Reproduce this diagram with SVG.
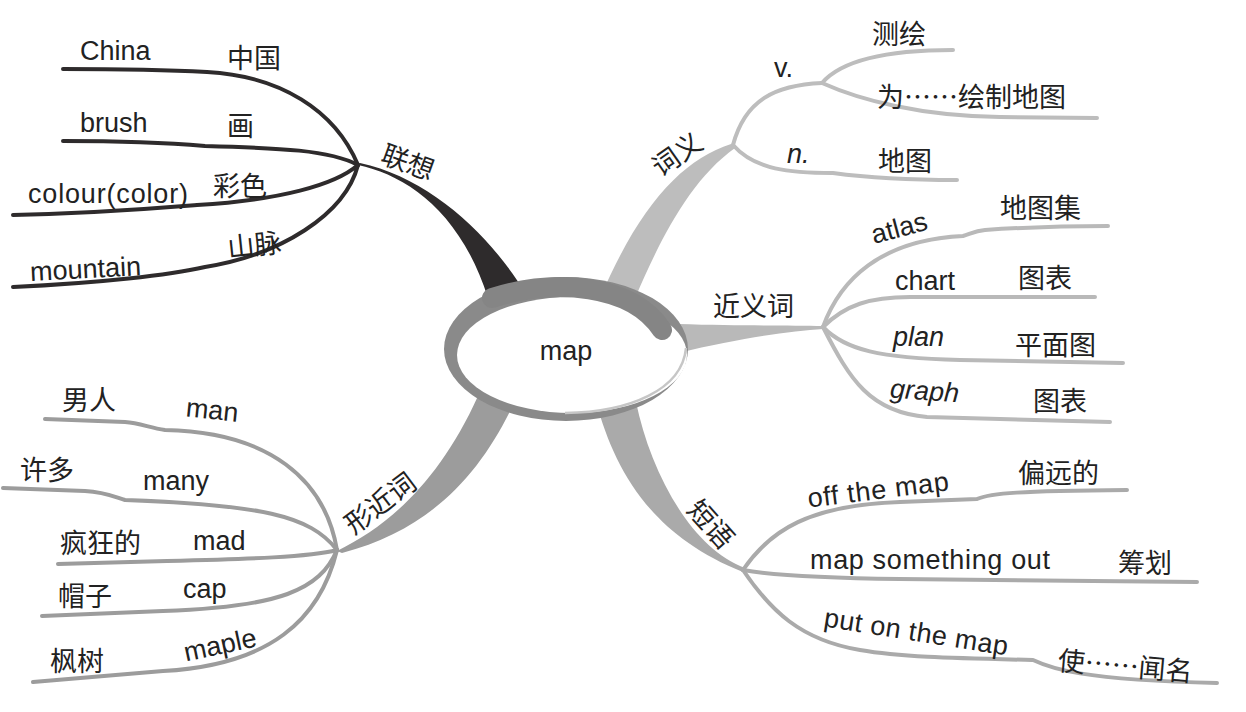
<svg xmlns="http://www.w3.org/2000/svg" width="1246" height="712" viewBox="0 0 1246 712">
<style>
.en{font-family:"Liberation Sans",Arial,sans-serif;font-size:27px;fill:#222}
.it{font-style:italic}
.zh{font-family:"Noto Sans CJK SC","Noto Sans CJK JP",sans-serif;font-size:27px;fill:#222}
.lk{fill:none;stroke-linecap:round;stroke-linejoin:round}
.d{stroke:#2e2b2c;stroke-width:4}
.a{stroke:#bdbdbd;stroke-width:4}
.b{stroke:#b9b9b9;stroke-width:4}
.c{stroke:#9c9c9c;stroke-width:4}
.e{stroke:#aaaaaa;stroke-width:4}
</style>
<rect width="1246" height="712" fill="#fff"/>
<g id="connectors">
  <!-- trunks -->
  <path d="M358 165 C405 175 460 210 488 298 L526 294 C490 235 430 178 360 163 Z" fill="#2e2b2c"/>
  <path d="M731 144 C682 160 640 205 600 298 L636 296 C660 240 690 180 735 148 Z" fill="#bdbdbd"/>
  <path d="M678 324 C740 326 790 325 823 326 L823 329 C790 331 740 338 678 353 Z" fill="#b9b9b9"/>
  <path d="M337 551 C390 525 440 480 478 396 L514 403 C480 475 430 530 342 553 Z" fill="#9c9c9c"/>
  <path d="M596 402 C615 470 650 535 743 572 L745 568 C690 548 650 470 636 402 Z" fill="#aaaaaa"/>
  <!-- 联想 leaves -->
  <path class="lk d" d="M63 69 C120 69 170 70 207 72 C280 76 335 110 358 165"/>
  <path class="lk d" d="M63 141 C120 141 170 143 205 146 C280 148 330 150 358 165"/>
  <path class="lk d" d="M13 215 C100 213 160 208 197 205 C280 200 335 185 358 165"/>
  <path class="lk d" d="M13 287 C100 283 170 275 205 267 C280 255 345 215 358 165"/>
  <!-- 词义 leaves -->
  <path class="lk a" d="M733 145 C745 100 775 85 822 83"/>
  <path class="lk a" d="M822 83 C840 62 880 50 953 50"/>
  <path class="lk a" d="M822 83 C860 100 920 116 1000 117 L1097 118"/>
  <path class="lk a" d="M733 145 C755 170 790 173 833 173 C870 178 910 180 957 180"/>
  <!-- 近义词 leaves -->
  <path class="lk b" d="M823 327 C840 280 880 240 963 236 C970 234 975 231 985 230 C1030 227 1070 226 1108 226"/>
  <path class="lk b" d="M823 327 C845 305 870 297 910 297 L1095 297"/>
  <path class="lk b" d="M823 327 C845 350 880 358 960 360 L1123 363"/>
  <path class="lk b" d="M823 327 C850 380 870 412 927 417 L1110 422"/>
  <!-- 形近词 leaves -->
  <path class="lk c" d="M337 550 C325 480 270 432 165 430 C150 428 140 423 125 422 L45 419"/>
  <path class="lk c" d="M337 550 C310 515 260 505 125 500 C115 497 105 492 85 491 L3 488"/>
  <path class="lk c" d="M337 550 C310 557 250 559 167 561 L58 564"/>
  <path class="lk c" d="M337 550 C320 590 280 607 163 611 L42 616"/>
  <path class="lk c" d="M337 550 C320 620 270 665 163 671 L33 682"/>
  <!-- 短语 leaves -->
  <path class="lk e" d="M743 570 C770 530 810 505 900 502 L977 499 C990 493 1020 491 1127 490"/>
  <path class="lk e" d="M743 570 C770 575 820 578 900 579 L1197 582"/>
  <path class="lk e" d="M743 570 C770 610 800 640 860 650 C900 657 950 658 1033 660 C1050 668 1080 680 1217 683"/>
</g>
<g id="node-map">
  <ellipse cx="566" cy="349" rx="122" ry="72" fill="#8a8a8a"/>
  <ellipse cx="572" cy="355" rx="115" ry="58" fill="#fff"/>
  <path d="M686 348 C682 390 630 412 565 413" fill="none" stroke="#c6c6c6" stroke-width="2.5"/>
  <path d="M492 298 C555 278 632 284 662 330" fill="none" stroke="#858585" stroke-width="20" stroke-linecap="round"/>
  <text class="en" x="566" y="360" text-anchor="middle">map</text>
</g>
<g id="branch-lianxiang">
  <text class="zh" transform="translate(408,162) rotate(20)" y="10" text-anchor="middle">联想</text>
  <text class="en" x="80" y="60">China</text>
  <text class="zh" x="227" y="68">中国</text>
  <text class="en" x="80" y="132">brush</text>
  <text class="zh" x="227" y="136">画</text>
  <text class="en" x="28" y="203" textLength="160">colour(color)</text>
  <text class="zh" x="213" y="196">彩色</text>
  <text class="en" x="30" y="278" transform="rotate(-3,86,270)">mountain</text>
  <text class="zh" x="227" y="255" transform="rotate(-6,252,243)">山脉</text>
</g>
<g id="branch-ciyi">
  <text class="zh" transform="translate(677,154) rotate(-35)" y="10" text-anchor="middle">词义</text>
  <text class="en" x="774" y="77">v.</text>
  <text class="zh" x="872" y="44">测绘</text>
  <text class="zh" x="877" y="107">为……绘制地图</text>
  <text class="en it" x="787" y="163">n.</text>
  <text class="zh" x="878" y="171">地图</text>
</g>
<g id="branch-jinyici">
  <text class="zh" x="713" y="316">近义词</text>
  <text class="en" transform="translate(899,227) rotate(-15)" y="10" text-anchor="middle">atlas</text>
  <text class="zh" x="1000" y="218">地图集</text>
  <text class="en" x="895" y="290">chart</text>
  <text class="zh" x="1018" y="288">图表</text>
  <text class="en it" x="893" y="346">plan</text>
  <text class="zh" x="1015" y="355">平面图</text>
  <text class="en it" x="890" y="400" transform="rotate(4,925,393)">graph</text>
  <text class="zh" x="1033" y="411">图表</text>
</g>
<g id="branch-xingjinci">
  <text class="zh" transform="translate(380,503) rotate(-37)" y="10" text-anchor="middle">形近词</text>
  <text class="zh" x="62" y="410">男人</text>
  <text class="en" transform="translate(212,412) rotate(6)" y="7" text-anchor="middle">man</text>
  <text class="zh" x="20" y="480">许多</text>
  <text class="en" x="143" y="490">many</text>
  <text class="zh" x="60" y="553">疯狂的</text>
  <text class="en" x="193" y="550">mad</text>
  <text class="zh" x="58" y="606">帽子</text>
  <text class="en" x="183" y="598">cap</text>
  <text class="zh" x="50" y="671">枫树</text>
  <text class="en" transform="translate(220,645) rotate(-12)" y="9" text-anchor="middle">maple</text>
</g>
<g id="branch-duanyu">
  <text class="zh" transform="translate(711,524) rotate(48)" y="10" text-anchor="middle">短语</text>
  <text class="en" transform="translate(878,490) rotate(-7)" y="9" text-anchor="middle" textLength="142">off the map</text>
  <text class="zh" x="1018" y="483">偏远的</text>
  <text class="en" x="810" y="569" textLength="240">map something out</text>
  <text class="zh" x="1118" y="573">筹划</text>
  <text class="en" transform="translate(916,633) rotate(9)" y="8" text-anchor="middle" textLength="186">put on the map</text>
  <text class="zh" x="1058" y="670" transform="rotate(5,1058,660)">使……闻名</text>
</g>
</svg>
